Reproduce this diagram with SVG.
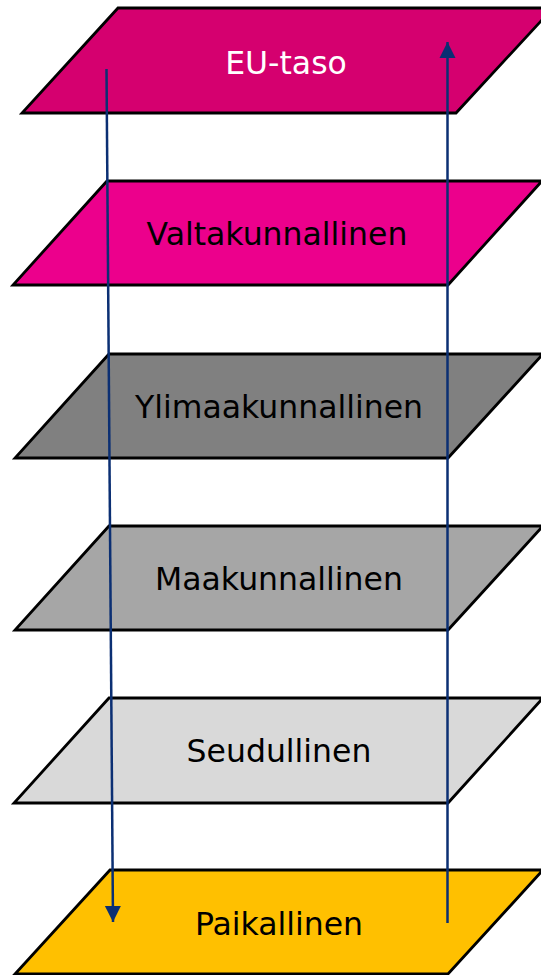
<svg xmlns="http://www.w3.org/2000/svg" width="541" height="975" viewBox="0 0 541 975">
<style>
.lvl{stroke:#000;stroke-width:2.8;stroke-linejoin:miter}
.lbl{font-family:"DejaVu Sans","Verdana",sans-serif;font-size:31.5px;text-anchor:middle;fill:#000}
.arr{stroke:#0B2F73;stroke-width:2.5;fill:none}
</style>
<defs>
<marker id="ah" markerUnits="userSpaceOnUse" markerWidth="18" markerHeight="18" viewBox="0 0 18 18" refX="16" refY="9" orient="auto">
<path d="M0,1 L16,9 L0,17 Z" fill="#0B2F73"/>
</marker>
</defs>
<g id="eu-taso">
<polygon class="lvl" fill="#D5006F" points="118,8 553,8 456,113 22,113"/>
<text class="lbl" x="286" y="74" style="fill:#fff">EU-taso</text>
</g>
<g id="valtakunnallinen">
<polygon class="lvl" fill="#EC008C" points="107,181 542,181 448,285 13,285"/>
<text class="lbl" x="277" y="245">Valtakunnallinen</text>
</g>
<g id="ylimaakunnallinen">
<polygon class="lvl" fill="#808080" points="109,354 543,354 448,458 15,458"/>
<text class="lbl" x="279" y="418">Ylimaakunnallinen</text>
</g>
<g id="maakunnallinen">
<polygon class="lvl" fill="#A6A6A6" points="109,526 543,526 448,630 15,630"/>
<text class="lbl" x="279" y="590">Maakunnallinen</text>
</g>
<g id="seudullinen">
<polygon class="lvl" fill="#D9D9D9" points="109,698 543,698 448,803 14,803"/>
<text class="lbl" x="279" y="762">Seudullinen</text>
</g>
<g id="paikallinen">
<polygon class="lvl" fill="#FFC000" points="110,870 543,870 448,974 15,974"/>
<text class="lbl" x="279" y="935">Paikallinen</text>
</g>
<g id="connectors">
<line class="arr" x1="106.5" y1="69" x2="113" y2="922" marker-end="url(#ah)"/>
<line class="arr" x1="447.5" y1="923" x2="447.5" y2="42" marker-end="url(#ah)"/>
</g>
</svg>
